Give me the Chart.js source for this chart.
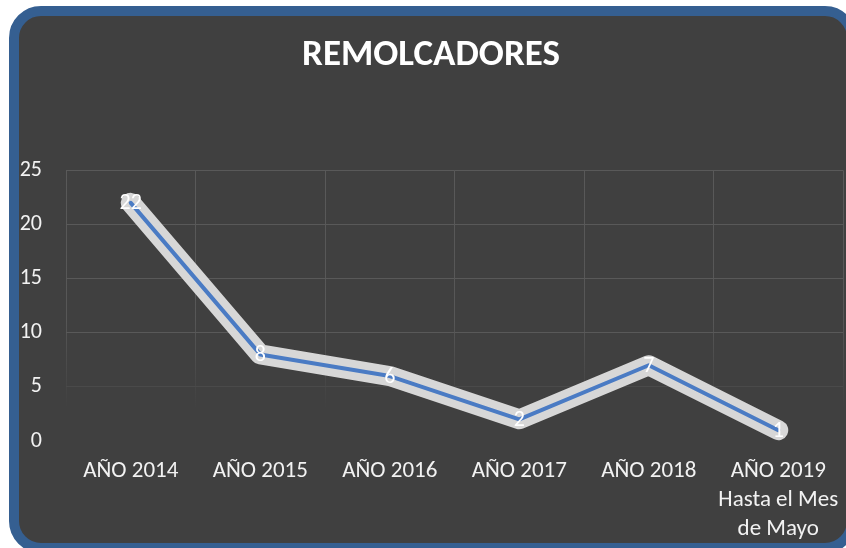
<!DOCTYPE html>
<html>
<head>
<meta charset="utf-8">
<title>Remolcadores</title>
<script src="https://cdn.jsdelivr.net/npm/chart.js@4.4.1/dist/chart.umd.min.js"></script>
<style>
    html, body { margin: 0; padding: 0; background: #ffffff; overflow: hidden; }
    #frame {
        position: absolute;
        left: 9px;
        top: 6px;
        width: 848px;
        height: 547px;
        box-sizing: border-box;
        border: 10px solid #355f91;
        border-radius: 32px;
        background: #404040;
    }
    #remolcadoresChart { position: absolute; left: 0; top: 0; }
</style>
</head>
<body>
<div id="frame"></div>
<canvas id="remolcadoresChart" width="846" height="548"></canvas>
<script>
const chartTitle = 'REMOLCADORES';
const categories = [
    'AÑO 2014',
    'AÑO 2015',
    'AÑO 2016',
    'AÑO 2017',
    'AÑO 2018',
    ['AÑO 2019', 'Hasta el Mes', 'de Mayo']
];
const remolcadores = [22, 8, 6, 2, 7, 1];
const yTicks = [0, 5, 10, 15, 20, 25];

const fontFamily = 'Carlito, Calibri, Lato, "Open Sans", sans-serif';

// white numbers written on top of each point
const pointLabels = {
    id: 'pointLabels',
    afterDatasetsDraw(chart) {
        const meta = chart.getDatasetMeta(0);
        const ctx = chart.ctx;
        ctx.save();
        ctx.fillStyle = '#ffffff';
        ctx.font = '22px ' + fontFamily;
        ctx.textAlign = 'center';
        ctx.textBaseline = 'middle';
        meta.data.forEach(function(pt, i) {
            ctx.fillText(String(remolcadores[i]), pt.x, pt.y + 1);
        });
        ctx.restore();
    }
};

document.addEventListener('DOMContentLoaded', function() {
    const ctx = document.getElementById('remolcadoresChart').getContext('2d');

    window.remolcadoresChart = new Chart(ctx, {
        type: 'line',
        data: {
            labels: categories,
            datasets: [{
                label: 'Remolcadores',
                data: remolcadores,
                borderColor: '#4a7bc4',
                borderWidth: 4,
                borderJoinStyle: 'round',
                borderCapStyle: 'round',
                pointRadius: 0,
                tension: 0
            }, {
                label: 'glow',
                data: remolcadores,
                borderColor: 'rgba(222, 222, 222, 0.96)',
                borderWidth: 20,
                borderJoinStyle: 'round',
                borderCapStyle: 'round',
                pointRadius: 0,
                tension: 0
            }]
        },
        options: {
            responsive: false,
            animation: false,
            layout: {
                padding: { left: 19, right: 3, top: 0, bottom: 0 }
            },
            scales: {
                x: {
                    offset: true,
                    border: { display: false },
                    grid: {
                        offset: true,
                        drawTicks: false,
                        lineWidth: 1,
                        color: function(context) {
                            const area = context.chart.chartArea;
                            if (!area) return '#585858';
                            const g = context.chart.ctx.createLinearGradient(0, area.top, 0, area.bottom);
                            g.addColorStop(0, '#595959');
                            g.addColorStop(0.55, '#575757');
                            g.addColorStop(0.88, '#404040');
                            g.addColorStop(1, '#404040');
                            return g;
                        }
                    },
                    ticks: {
                        color: '#f2f2f2',
                        padding: 16,
                        autoSkip: false,
                        maxRotation: 0,
                        font: { family: fontFamily, size: 23, lineHeight: 1.25 }
                    },
                    afterFit: function(scale) {
                        scale.height = 107;
                        // let the long last label hang over, keep the plot wide
                        scale.paddingLeft = 0;
                        scale.paddingRight = 0;
                    }
                },
                y: {
                    min: 0,
                    max: 25,
                    border: { display: false },
                    grid: {
                        drawTicks: false,
                        lineWidth: 1,
                        color: function(context) {
                            const v = context.tick ? context.tick.value : null;
                            if (v === 0) return 'rgba(0,0,0,0)';
                            if (v === 5) return '#4a4a4a';
                            return '#595959';
                        }
                    },
                    afterBuildTicks: function(scale) {
                        scale.ticks = yTicks.map(function(v) { return { value: v }; });
                    },
                    ticks: {
                        color: '#f2f2f2',
                        padding: 24,
                        font: { family: fontFamily, size: 22 }
                    },
                    afterFit: function(scale) {
                        scale.width = 47;
                    }
                }
            },
            plugins: {
                legend: { display: false },
                tooltip: { enabled: false },
                title: {
                    display: true,
                    text: chartTitle,
                    color: '#ffffff',
                    font: { family: fontFamily, size: 37, weight: 'bold', lineHeight: 1.2 },
                    padding: { top: 34, bottom: 92 }
                }
            }
        },
        plugins: [pointLabels]
    });
});
</script>
</body>
</html>
